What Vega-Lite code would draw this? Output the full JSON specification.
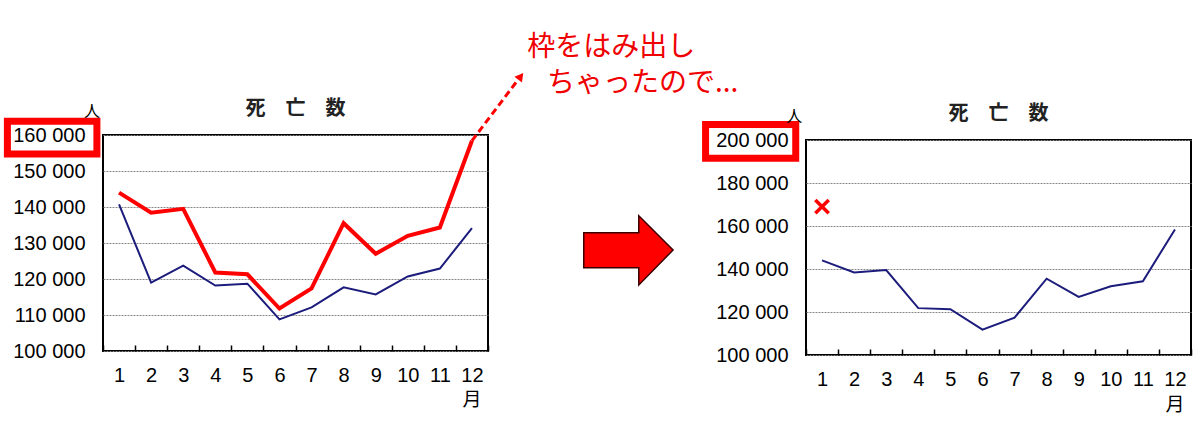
{
  "$schema": "https://vega.github.io/schema/vega-lite/v6.json",
  "padding": {"left": 2, "top": 33, "right": 5, "bottom": 5},
  "bounds": "flush",
  "spacing": 318,
  "config": {
    "view": {"stroke": "#000", "strokeWidth": 2},
    "font": "Liberation Sans"
  },
  "hconcat": [
    {
      "width": 385,
      "height": 216,
      "resolve": {"scale": {"x": "independent"}},
      "layer": [
        {
          "data": {
            "values": [
              {"month": 1, "series": "A", "v": 140700},
              {"month": 2, "series": "A", "v": 119000},
              {"month": 3, "series": "A", "v": 123700},
              {"month": 4, "series": "A", "v": 118200},
              {"month": 5, "series": "A", "v": 118700},
              {"month": 6, "series": "A", "v": 108800},
              {"month": 7, "series": "A", "v": 112100},
              {"month": 8, "series": "A", "v": 117700},
              {"month": 9, "series": "A", "v": 115700},
              {"month": 10, "series": "A", "v": 120700},
              {"month": 11, "series": "A", "v": 122900},
              {"month": 12, "series": "A", "v": 134100},
              {"month": 1, "series": "B", "v": 144000},
              {"month": 2, "series": "B", "v": 138400},
              {"month": 3, "series": "B", "v": 139500},
              {"month": 4, "series": "B", "v": 121800},
              {"month": 5, "series": "B", "v": 121300},
              {"month": 6, "series": "B", "v": 111800},
              {"month": 7, "series": "B", "v": 117400},
              {"month": 8, "series": "B", "v": 135500},
              {"month": 9, "series": "B", "v": 127000},
              {"month": 10, "series": "B", "v": 132000},
              {"month": 11, "series": "B", "v": 134300},
              {"month": 12, "series": "B", "v": 158400}
            ]
          },
          "mark": {"type": "line"},
          "encoding": {
            "x": {
              "field": "month", "type": "ordinal", "bandPosition": 0.5,
              "scale": {"type": "band", "paddingInner": 0, "paddingOuter": 0},
              "axis": {"title": null, "labelAngle": 0, "labelFontSize": 20, "labelColor": "#000",
                       "tickBand": "extent", "tickSize": -6, "tickColor": "#000", "tickWidth": 1.5,
                       "domain": false, "grid": false, "labelPadding": 20}
            },
            "y": {
              "field": "v", "type": "quantitative",
              "scale": {"domain": [100000, 160000], "nice": false, "zero": false},
              "axis": {"title": null, "values": [100000, 110000, 120000, 130000, 140000, 150000, 160000],
                       "labelExpr": "replace(format(datum.value, ','), ',', ' ')",
                       "labelFontSize": 20, "labelColor": "#000", "labelPadding": 18, "labelOverlap": false,
                       "ticks": false, "domain": false, "grid": true,
                       "gridColor": "#888", "gridDash": [2, 1], "gridWidth": 1}
            },
            "color": {"field": "series", "type": "nominal", "legend": null,
                      "scale": {"domain": ["A", "B"], "range": ["#1c1c7c", "#ff0000"]}},
            "strokeWidth": {"field": "series", "type": "nominal", "legend": null,
                            "scale": {"domain": ["A", "B"], "range": [2, 4]}}
          }
        },
        {
          "encoding": {
            "x": {"field": "ax", "type": "quantitative", "axis": null,
                  "scale": {"domain": [0.5, 12.5], "nice": false, "zero": false}},
            "y": {"field": "ay", "type": "quantitative",
                  "scale": {"domain": [100000, 160000], "nice": false, "zero": false},
                  "axis": {"title": null, "values": [100000, 110000, 120000, 130000, 140000, 150000, 160000],
                           "labelExpr": "replace(format(datum.value, ','), ',', ' ')",
                           "labelFontSize": 20, "labelColor": "#000", "labelPadding": 18, "labelOverlap": false,
                           "ticks": false, "domain": false, "grid": true,
                           "gridColor": "#888", "gridDash": [2, 1], "gridWidth": 1}}
          },
          "layer": [
            {
              "data": {"values": [{"ax": 6.5, "ay": 167300, "t": "死　亡　数"}]},
              "mark": {"type": "text", "font": "Noto Sans CJK JP", "fontSize": 20, "fontWeight": "bold", "baseline": "middle", "color": "#222"},
              "encoding": {"text": {"field": "t"}}
            },
            {
              "data": {"values": [{"ax": -2.48, "ax2": 0.31, "ay": 154700, "ay2": 163800}]},
              "mark": {"type": "rect", "filled": false, "stroke": "#ff0000", "strokeWidth": 7},
              "encoding": {"x2": {"field": "ax2"}, "y2": {"field": "ay2"}}
            },
            {
              "data": {"values": [{"ax": 0.16, "ay": 166500, "t": "人"}]},
              "mark": {"type": "text", "font": "Noto Sans CJK JP", "fontSize": 16, "baseline": "middle", "color": "#000"},
              "encoding": {"text": {"field": "t"}}
            },
            {
              "data": {"values": [{"ax": 12, "ay": 86500, "t": "月"}]},
              "mark": {"type": "text", "font": "Noto Sans CJK JP", "fontSize": 19, "baseline": "middle", "color": "#000"},
              "encoding": {"text": {"field": "t"}}
            },
            {
              "data": {"values": [{"ax": 12, "ay": 158400}, {"ax": 13.44, "ay": 175400}]},
              "mark": {"type": "line", "color": "#ff0000", "strokeWidth": 3, "strokeDash": [7, 4]},
              "encoding": {}
            },
            {
              "data": {"values": [{"ax": 13.52, "ay": 176300}]},
              "mark": {"type": "point", "shape": "triangle-up", "filled": true, "color": "#ff0000", "size": 90, "angle": 38, "opacity": 1},
              "encoding": {}
            },
            {
              "data": {"values": [{"ax": 13.72, "ay": 184100, "t": "枠をはみ出し"}, {"ax": 14.34, "ay": 174300, "t": "ちゃったので..."}]},
              "mark": {"type": "text", "font": "Noto Sans CJK JP", "fontSize": 28, "align": "left", "baseline": "middle", "color": "#f00000"},
              "encoding": {"text": {"field": "t"}}
            },
            {
              "data": {"values": [
                {"ax": 15.485, "ay": 123139, "ay2": 132861},
                {"ax": 17.199, "ay": 123139, "ay2": 132861},
                {"ax": 17.2, "ay": 118333, "ay2": 137583},
                {"ax": 18.268, "ay": 128056, "ay2": 128056}
              ]},
              "mark": {"type": "area", "color": "#ff0000", "fill": "#ff0000", "stroke": "#3a0000", "strokeWidth": 1.5, "opacity": 1},
              "encoding": {"y2": {"field": "ay2"}}
            }
          ]
        }
      ]
    },
    {
      "spacing": 0,
      "bounds": "flush",
      "vconcat": [
        {
          "width": 385,
          "height": 5,
          "view": {"stroke": null},
          "data": {"values": []},
          "mark": "point",
          "encoding": {}
        },
        {
          "width": 385,
          "height": 215,
          "resolve": {"scale": {"x": "independent"}},
          "layer": [
            {
              "data": {
                "values": [
                  {"month": 1, "v": 144000},
                  {"month": 2, "v": 138400},
                  {"month": 3, "v": 139500},
                  {"month": 4, "v": 121800},
                  {"month": 5, "v": 121300},
                  {"month": 6, "v": 111800},
                  {"month": 7, "v": 117400},
                  {"month": 8, "v": 135500},
                  {"month": 9, "v": 127000},
                  {"month": 10, "v": 132000},
                  {"month": 11, "v": 134300},
                  {"month": 12, "v": 158400}
                ]
              },
              "mark": {"type": "line", "color": "#1c1c7c", "strokeWidth": 2},
              "encoding": {
                "x": {
                  "field": "month", "type": "ordinal", "bandPosition": 0.5,
                  "scale": {"type": "band", "paddingInner": 0, "paddingOuter": 0},
                  "axis": {"title": null, "labelAngle": 0, "labelFontSize": 20, "labelColor": "#000",
                           "tickBand": "extent", "tickSize": -6, "tickColor": "#000", "tickWidth": 1.5,
                           "domain": false, "grid": false, "labelPadding": 20}
                },
                "y": {
                  "field": "v", "type": "quantitative",
                  "scale": {"domain": [100000, 200000], "nice": false, "zero": false},
                  "axis": {"title": null, "values": [100000, 120000, 140000, 160000, 180000, 200000],
                           "labelExpr": "replace(format(datum.value, ','), ',', ' ')",
                           "labelFontSize": 20, "labelColor": "#000", "labelPadding": 18, "labelOverlap": false,
                           "ticks": false, "domain": false, "grid": true,
                           "gridColor": "#888", "gridDash": [2, 1], "gridWidth": 1}
                }
              }
            },
            {
              "encoding": {
                "x": {"field": "ax", "type": "quantitative", "axis": null,
                      "scale": {"domain": [0.5, 12.5], "nice": false, "zero": false}},
                "y": {"field": "ay", "type": "quantitative",
                      "scale": {"domain": [100000, 200000], "nice": false, "zero": false},
                      "axis": {"title": null, "values": [100000, 120000, 140000, 160000, 180000, 200000],
                               "labelExpr": "replace(format(datum.value, ','), ',', ' ')",
                               "labelFontSize": 20, "labelColor": "#000", "labelPadding": 18, "labelOverlap": false,
                               "ticks": false, "domain": false, "grid": true,
                               "gridColor": "#888", "gridDash": [2, 1], "gridWidth": 1}}
              },
              "layer": [
                {
                  "data": {"values": [{"ax": 6.5, "ay": 212200, "t": "死　亡　数"}]},
                  "mark": {"type": "text", "font": "Noto Sans CJK JP", "fontSize": 20, "fontWeight": "bold", "baseline": "middle", "color": "#222"},
                  "encoding": {"text": {"field": "t"}}
                },
                {
                  "data": {"values": [{"ax": -2.63, "ax2": 0.18, "ay": 191500, "ay2": 207200}]},
                  "mark": {"type": "rect", "filled": false, "stroke": "#ff0000", "strokeWidth": 7},
                  "encoding": {"x2": {"field": "ax2"}, "y2": {"field": "ay2"}}
                },
                {
                  "data": {"values": [{"ax": 0.13, "ay": 210800, "t": "人"}]},
                  "mark": {"type": "text", "font": "Noto Sans CJK JP", "fontSize": 16, "baseline": "middle", "color": "#000"},
                  "encoding": {"text": {"field": "t"}}
                },
                {
                  "data": {"values": [{"ax": 12, "ay": 76900, "t": "月"}]},
                  "mark": {"type": "text", "font": "Noto Sans CJK JP", "fontSize": 19, "baseline": "middle", "color": "#000"},
                  "encoding": {"text": {"field": "t"}}
                },
                {
                  "data": {"values": [{"ax": 1, "ay": 169000}]},
                  "mark": {"type": "point", "shape": "M-1,-1L1,1M1,-1L-1,1", "filled": false, "color": "#ff0000", "strokeWidth": 3.5, "size": 180, "opacity": 1},
                  "encoding": {}
                }
              ]
            }
          ]
        }
      ]
    }
  ]
}
